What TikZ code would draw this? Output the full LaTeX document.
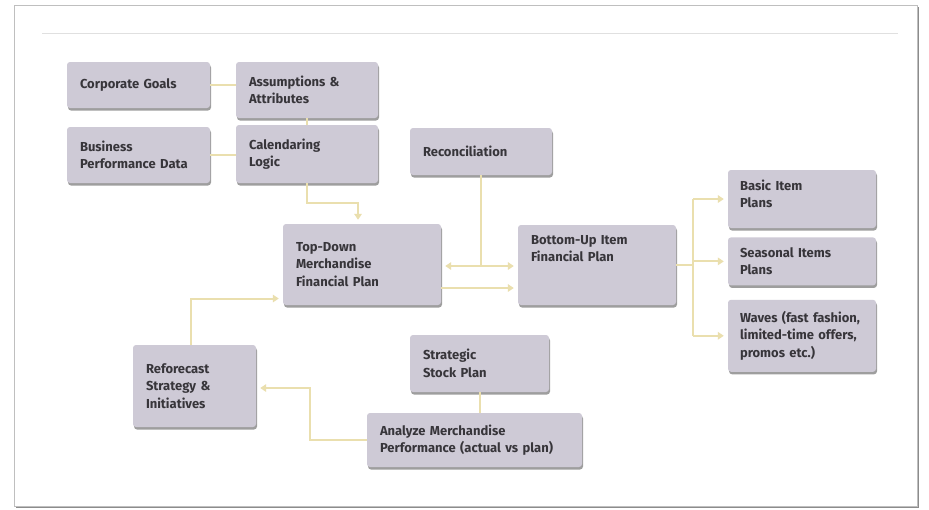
\documentclass[tikz,border=0pt]{standalone}
\usepackage{fontspec}
\setmainfont{Fira Sans}
\usetikzlibrary{arrows.meta,positioning,shadows,calc}

\definecolor{planfill}{RGB}{206,202,214}
\definecolor{plantext}{RGB}{55,53,58}
\definecolor{plantan}{RGB}{234,223,174}

\begin{document}
\begin{tikzpicture}[x=1pt, y=-1pt,
    every node/.style={font=\bfseries\fontsize{13}{17.5}\selectfont, text=plantext},
    box/.style={
        fill=planfill,
        rounded corners=3pt,
        align=left,
        inner xsep=13pt,
        inner ysep=4pt,
        drop shadow={shadow xshift=1pt, shadow yshift=-2.5pt, opacity=0.38, fill=black}
    },
    link/.style={draw=plantan, line width=2pt},
    arrow/.style={link, -{Triangle[length=6pt,width=7.5pt]}, shorten >=4pt}
]
\useasboundingbox (0,0) rectangle (929,509);

% Page frame and rule
\path[draw=black!25, line width=1pt, fill=white,
      drop shadow={shadow xshift=1.5pt, shadow yshift=-1.5pt, opacity=0.45, fill=black}]
    (14,5) rectangle (917,506);
\draw[black!12, line width=0.8pt] (42,33) -- (898,33);

% Inputs
\node[box, text width=117pt, minimum height=46pt] (corp) at (138.5,85) {Corporate Goals};
\node[box, text width=116pt, minimum height=56pt] (assump) at (307,90) {Assumptions \&\\Attributes};
\node[box, text width=117pt, minimum height=56pt] (bizdata) at (138.5,155) {Business\\Performance Data};
\node[box, text width=116pt, minimum height=58pt] (calendar) at (307,154) {Calendaring\\Logic};
\node[box, text width=116pt, minimum height=47pt] (recon) at (481,151.5) {Reconciliation};

% Financial plans
\node[box, text width=132pt, minimum height=81pt] (topdown) at (362,264.5) {Top-Down\\Merchandise\\Financial Plan};
\node[box, text width=132pt, text height=15pt, text depth=57pt] (bottomup) at (597,265) {Bottom-Up Item\\Financial Plan};

% Item plans
\node[box, text width=124pt, inner xsep=12pt, text height=16pt, text depth=34pt] (basic) at (802,199) {Basic Item\\Plans};
\node[box, text width=124pt, inner xsep=12pt, minimum height=48pt, below=9pt of basic] (seasonal) {Seasonal Items\\Plans};
\node[box, text width=124pt, inner xsep=12pt, minimum height=72pt, below=14pt of seasonal] (waves) {Waves (fast fashion,\\limited-time offers,\\promos etc.)};

% Review loop
\node[box, text width=97pt, minimum height=82pt] (reforecast) at (194.5,386) {Reforecast\\Strategy \&\\Initiatives};
\node[box, text width=113pt, minimum height=57pt] (stock) at (479.5,363.5) {Strategic\\Stock Plan};
\node[box, text width=189pt, minimum height=54pt] (analyze) at (474.5,440) {Analyze Merchandise\\Performance (actual vs plan)};

% Plain links
\draw[link] (corp.east) -- (corp.east -| assump.west);
\draw[link] (assump) -- (calendar);
\draw[link] (bizdata.east) -- (bizdata.east -| calendar.west);
\draw[link] (stock) -- (stock |- analyze.north);

% Into the top-down plan
\draw[arrow] (calendar.south) -- ++(0,20) -| ($(topdown.north)+(-4,0)$);
\draw[arrow] ($(reforecast.north)+(-4,0)$) |- ($(topdown.west)+(0,34)$);

% Reconciliation between the two plans
\coordinate (meet) at ($(recon.south |- topdown.east)+(0,1.5)$);
\draw[link] (recon) -- (meet);
\draw[arrow] (meet) -- (meet -| topdown.east);
\draw[arrow] (meet) -- (meet -| bottomup.west);
\coordinate (tdout) at ($(topdown.east)+(0,23.5)$);
\draw[arrow] (tdout) -- (tdout -| bottomup.west);

% Bottom-up plan feeds the item plans
\coordinate (split) at ($(bottomup.east)+(17,0)$);
\draw[link] (bottomup.east) -- (split);
\draw[link] (split |- basic.west) -- (split |- waves.west);
\foreach \p in {basic,seasonal,waves}
    \draw[arrow] (split |- \p.west) -- (\p.west);

% Performance back to reforecast
\draw[arrow] (analyze.west) -- ++(-57,0) |- ($(reforecast.east)+(0,2)$);

\end{tikzpicture}
\end{document}
